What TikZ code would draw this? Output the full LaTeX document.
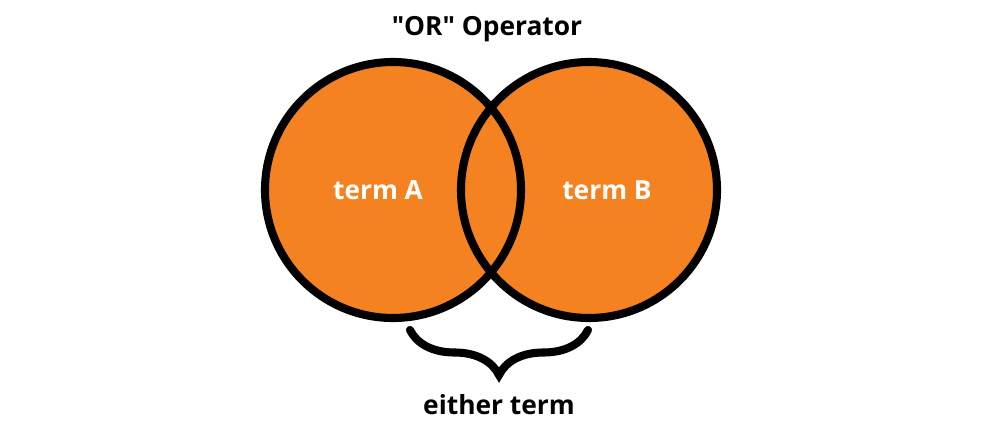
\documentclass[tikz,border=0pt]{standalone}
\usepackage{fontspec}
\setmainfont{Open Sans}[Ligatures=TeXOff]
\usetikzlibrary{decorations.pathreplacing}
\definecolor{venn}{HTML}{F58220}
\begin{document}
\begin{tikzpicture}[x=0.02cm, y=-0.02cm]
\tikzset{set/.style={circle, fill=venn, minimum size=5.12cm, inner sep=0pt},
  rim/.style={black, line width=4.6pt},
  label/.style={font=\fontsize{15}{18}\selectfont\bfseries}}
\useasboundingbox (0,0) rectangle (1000,426);
% sets
\node [set] (A) at (393,190) {};
\node [set] (B) at (589,190) {};
\draw [rim] (A.center) circle (128);
\draw [rim] (B.center) circle (128);
\node [label, white] (ta) at (378,190) {term A};
\node [label, white] (tb) at (607,190) {term B};
% captions
\node [label] (title) at (487,29) {"OR" Operator};
\coordinate (bl) at (410,330);
\coordinate (br) at (588,330);
\draw [rim, line cap=round, decorate, decoration={brace, mirror, amplitude=0.9cm, aspect=0.5}] (bl) -- (br);
\node [label] (either) at (499,405) {either term};
\end{tikzpicture}
\end{document}
